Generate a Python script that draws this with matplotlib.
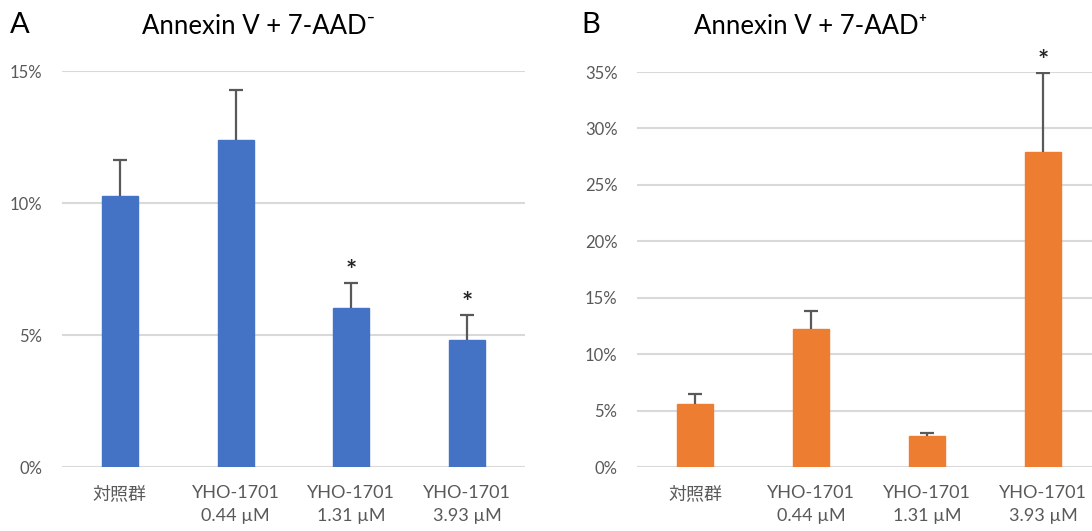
import matplotlib
matplotlib.use('Agg')
import matplotlib.pyplot as plt
from matplotlib.ticker import PercentFormatter

plt.rcParams['font.family'] = ['Lato', 'Noto Sans CJK JP', 'DejaVu Sans']

categories = ['対照群', 'YHO-1701\n0.44 µM', 'YHO-1701\n1.31 µM', 'YHO-1701\n3.93 µM']

neg_values = [10.27, 12.39, 6.02, 4.81]
neg_errors = [1.36, 1.89, 0.95, 0.95]
neg_stars = [False, False, True, True]

pos_values = [5.58, 12.2, 2.75, 27.9]
pos_errors = [0.89, 1.6, 0.25, 7.0]
pos_stars = [False, False, False, True]

blue = '#4472C4'
orange = '#ED7D31'
text_gray = '#595959'


def panel(ax, values, errors, stars, color, ymax):
    x = range(len(categories))
    ax.bar(x, values, width=0.31, color=color, edgecolor=color, zorder=3)
    eb = ax.errorbar(x, values, yerr=[[0] * len(errors), errors], fmt='none',
                     ecolor=text_gray, elinewidth=1.6, capsize=5, capthick=1.6, zorder=4)
    # only the upper cap, like the original
    eb[1][0].set_visible(False)
    for i, (v, e, s) in enumerate(zip(values, errors, stars)):
        if s:
            ax.annotate('*', (i, v + e), xytext=(0, 0), textcoords='offset points',
                        ha='center', va='bottom', fontsize=19, fontweight='bold',
                        color='#262626', annotation_clip=False)
    ax.set_xlim(-0.5, 3.5)
    ax.set_ylim(0, ymax)
    ax.set_yticks(range(0, ymax + 1, 5))
    ax.yaxis.set_major_formatter(PercentFormatter(decimals=0))
    ax.set_xticks(list(x))
    ax.set_xticklabels(categories, fontsize=13, color=text_gray, linespacing=1.5)
    ax.tick_params(axis='both', length=0, labelcolor=text_gray)
    ax.tick_params(axis='y', pad=14, labelsize=12)
    ax.tick_params(axis='x', pad=13)
    ax.grid(axis='y', color='#d9d9d9', linewidth=1.5, zorder=0)
    for sp in ax.spines.values():
        sp.set_visible(False)


fig = plt.figure(figsize=(10.92, 5.31), dpi=100)
ax1 = fig.add_axes([62 / 1092, 64 / 531, 463 / 1092, 396 / 531])
ax2 = fig.add_axes([637 / 1092, 64 / 531, 464 / 1092, 395 / 531])

panel(ax1, neg_values, neg_errors, neg_stars, blue, 15)
panel(ax2, pos_values, pos_errors, pos_stars, orange, 35)

fig.text(259 / 1092, 1 - 27 / 531, 'Annexin V + 7-AAD⁻', ha='center', va='center', fontsize=18.5)
fig.text(811 / 1092, 1 - 27 / 531, 'Annexin V + 7-AAD⁺', ha='center', va='center', fontsize=18.5)
fig.text(10 / 1092, 1 - 25 / 531, 'A', ha='left', va='center', fontsize=21)
fig.text(581 / 1092, 1 - 25 / 531, 'B', ha='left', va='center', fontsize=21)

fig.savefig('out.png', dpi=100)
